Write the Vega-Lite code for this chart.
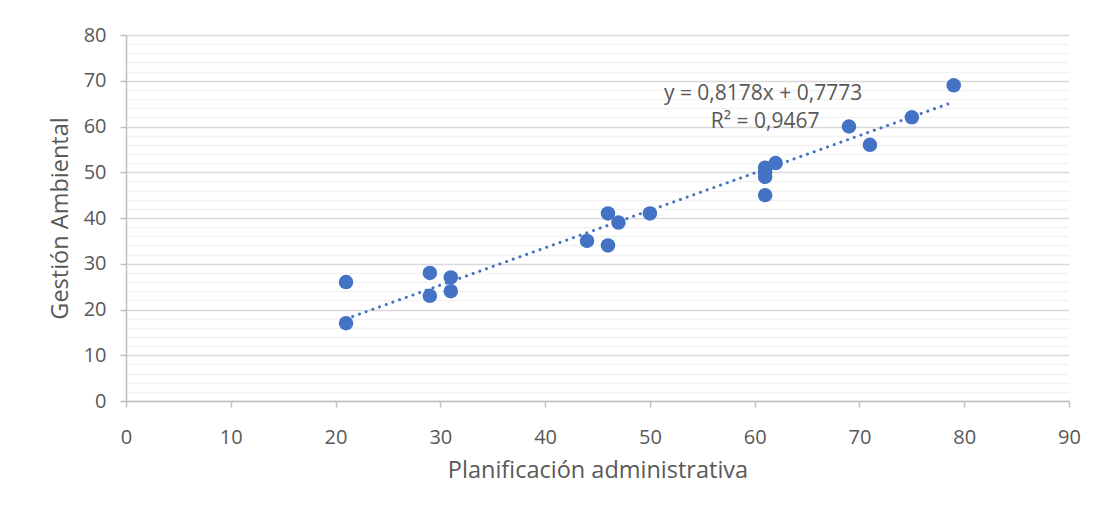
{
  "$schema": "https://vega.github.io/schema/vega-lite/v6.json",
  "width": 943,
  "height": 366,
  "autosize": "none",
  "padding": {"left": 126, "top": 35, "right": 31, "bottom": 114},
  "background": "white",
  "config": {
    "view": {"stroke": null},
    "font": "Open Sans",
    "axis": {
      "labelFont": "Open Sans",
      "titleFont": "Open Sans",
      "labelColor": "#595959",
      "titleColor": "#595959",
      "labelFontSize": 20,
      "titleFontSize": 23.5,
      "titleFontWeight": "normal",
      "domainColor": "#BFBFBF",
      "domainWidth": 1.5,
      "tickColor": "#BFBFBF",
      "tickWidth": 1.5,
      "tickSize": 6,
      "labelOverlap": false,
      "labelBound": false,
      "labelFlush": false
    }
  },
  "datasets": {
    "pts": [
      {"x": 21, "y": 26}, {"x": 21, "y": 17},
      {"x": 29, "y": 28}, {"x": 29, "y": 23},
      {"x": 31, "y": 27}, {"x": 31, "y": 24},
      {"x": 44, "y": 35}, {"x": 46, "y": 41},
      {"x": 46, "y": 34}, {"x": 47, "y": 39},
      {"x": 50, "y": 41}, {"x": 61, "y": 51},
      {"x": 61, "y": 50}, {"x": 61, "y": 49},
      {"x": 61, "y": 45}, {"x": 62, "y": 52},
      {"x": 69, "y": 60}, {"x": 71, "y": 56},
      {"x": 75, "y": 62}, {"x": 79, "y": 69}
    ],
    "trend": [{"x": 21, "y": 17.95}, {"x": 79, "y": 65.38}],
    "labels": [
      {"x": 60.8, "y": 67.2, "t": "y = 0,8178x + 0,7773"},
      {"x": 61.0, "y": 60.9, "t": "R² = 0,9467"}
    ]
  },
  "layer": [
    {
      "data": {"name": "pts"},
      "mark": {"type": "circle", "size": 210, "opacity": 1, "color": "#4472C4"},
      "encoding": {
        "x": {
          "field": "x", "type": "quantitative",
          "scale": {"domain": [0, 90], "nice": false, "zero": true},
          "axis": {
            "values": [0, 10, 20, 30, 40, 50, 60, 70, 80, 90],
            "tickCount": 100,
            "grid": false,
            "title": "Planificación administrativa",
            "titlePadding": 11,
            "labelPadding": 20
          }
        },
        "y": {
          "field": "y", "type": "quantitative",
          "scale": {"domain": [0, 80], "nice": false},
          "axis": {
            "values": [0, 2, 4, 6, 8, 10, 12, 14, 16, 18, 20, 22, 24, 26, 28, 30, 32, 34, 36, 38, 40, 42, 44, 46, 48, 50, 52, 54, 56, 58, 60, 62, 64, 66, 68, 70, 72, 74, 76, 78, 80],
            "tickCount": 100,
            "labelExpr": "datum.value % 10 === 0 ? datum.label : ''",
            "grid": true,
            "gridColor": {"condition": {"test": "datum.value % 10 === 0", "value": "#D9D9D9"}, "value": "#F2F2F2"},
            "gridWidth": 1.5,
            "tickOpacity": {"condition": {"test": "datum.value % 10 === 0", "value": 1}, "value": 0},
            "title": "Gestión Ambiental",
            "titlePadding": 11,
            "labelPadding": 14
          }
        }
      }
    },
    {
      "data": {"name": "trend"},
      "mark": {"type": "line", "color": "#4472C4", "strokeWidth": 3, "strokeDash": [0.1, 7], "strokeCap": "round"},
      "encoding": {
        "x": {"field": "x", "type": "quantitative"},
        "y": {"field": "y", "type": "quantitative"}
      }
    },
    {
      "data": {"name": "labels"},
      "mark": {"type": "text", "fontSize": 21, "color": "#595959", "align": "center", "baseline": "middle", "font": "Open Sans"},
      "encoding": {
        "x": {"field": "x", "type": "quantitative"},
        "y": {"field": "y", "type": "quantitative"},
        "text": {"field": "t"}
      }
    }
  ]
}
